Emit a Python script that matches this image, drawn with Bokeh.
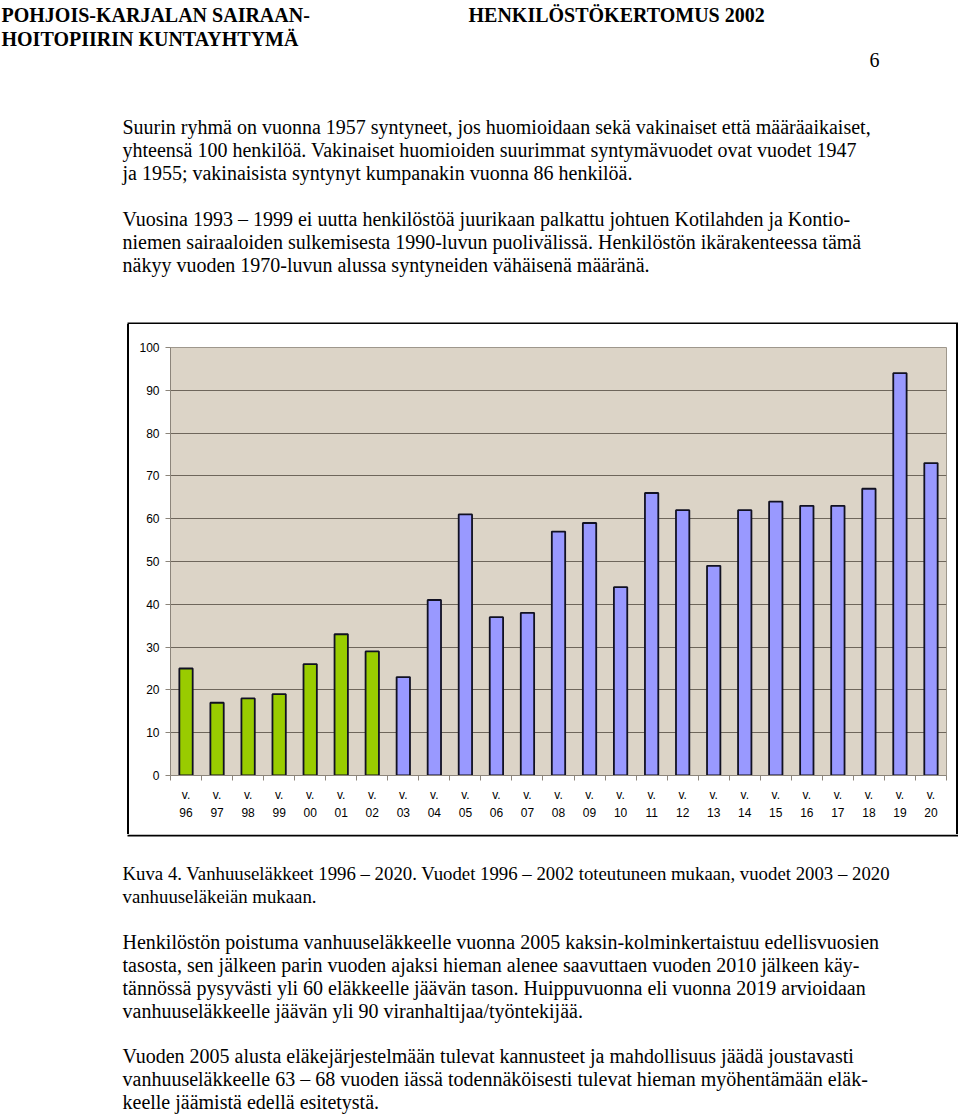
from bokeh.plotting import figure
from bokeh.models import FixedTicker, Range1d, Spacer
from bokeh.layouts import column, row
from bokeh.core.properties import value
from bokeh.embed import file_html
from bokeh.resources import INLINE

# ---- data ----
years = ["96", "97", "98", "99", "00", "01", "02", "03", "04", "05", "06", "07", "08",
         "09", "10", "11", "12", "13", "14", "15", "16", "17", "18", "19", "20"]
retirements = [25, 17, 18, 19, 26, 33, 29, 23, 41, 61, 37, 38, 57,
               59, 44, 66, 62, 49, 62, 64, 63, 63, 67, 94, 73]
realized_count = 7  # 1996-2002 realized, 2003-2020 estimated
y_ticks = [0, 10, 20, 30, 40, 50, 60, 70, 80, 90, 100]

header_left = ["POHJOIS-KARJALAN SAIRAAN-", "HOITOPIIRIN KUNTAYHTYMÄ"]
header_right = ["HENKILÖSTÖKERTOMUS 2002"]
page_no = ["6"]
para1 = ["Suurin ryhmä on vuonna 1957 syntyneet, jos huomioidaan sekä vakinaiset että määräaikaiset,",
         "yhteensä 100 henkilöä.  Vakinaiset huomioiden suurimmat syntymävuodet ovat vuodet 1947",
         "ja 1955; vakinaisista syntynyt kumpanakin vuonna 86 henkilöä."]
para2 = ["Vuosina 1993 – 1999 ei uutta henkilöstöä juurikaan palkattu johtuen Kotilahden ja Kontio-",
         "niemen sairaaloiden sulkemisesta 1990-luvun puolivälissä.  Henkilöstön ikärakenteessa tämä",
         "näkyy vuoden 1970-luvun alussa syntyneiden vähäisenä määränä."]
caption = ["Kuva 4.  Vanhuuseläkkeet 1996 – 2020.  Vuodet 1996 – 2002 toteutuneen mukaan, vuodet 2003 – 2020",
           "vanhuuseläkeiän mukaan."]
para3 = ["Henkilöstön poistuma vanhuuseläkkeelle vuonna 2005 kaksin-kolminkertaistuu edellisvuosien",
         "tasosta, sen jälkeen parin vuoden ajaksi hieman alenee saavuttaen vuoden 2010 jälkeen käy-",
         "tännössä pysyvästi yli 60 eläkkeelle jäävän tason.  Huippuvuonna eli vuonna 2019 arvioidaan",
         "vanhuuseläkkeelle jäävän yli 90 viranhaltijaa/työntekijää."]
para4 = ["Vuoden 2005 alusta eläkejärjestelmään tulevat kannusteet ja mahdollisuus jäädä joustavasti",
         "vanhuuseläkkeelle 63 – 68 vuoden iässä todennäköisesti tulevat hieman myöhentämään eläk-",
         "keelle jäämistä edellä esitetystä."]

W = 958
BOX_T, BOX_B = 324, 834          # page y of the chart box edges
BOX_L, BOX_R = 127, 958          # page x of the chart box edges
BOT_END = 1115
LINE = 2                          # box line width

SERIF = value("Liberation Serif")


def text_figure(x0, x1, y0, y1):
    """A figure whose frame is the whole canvas, in page-pixel coordinates (y downward)."""
    f = figure(width=x1 - x0, height=y1 - y0, output_backend="svg", toolbar_location=None,
               x_range=Range1d(x0, x1), y_range=Range1d(y1, y0),
               x_axis_type=None, y_axis_type=None,
               min_border_left=0, min_border_right=0, min_border_top=0, min_border_bottom=0)
    f.outline_line_color = None
    f.grid.grid_line_color = None
    f.background_fill_color = "white"
    f.border_fill_color = "white"
    return f


def add_lines(f, lines, x, y0, step, size="20px", style="normal"):
    f.text(x=[x] * len(lines), y=[y0 + step * i for i in range(len(lines))], text=lines,
           text_font=SERIF, text_font_size=size, text_font_style=style,
           text_baseline="middle", text_align="left", text_color="black")


# ---------- top text block ----------
top = text_figure(0, W, 0, BOX_T)
add_lines(top, header_left, 1, 14, 24, size="20px", style="bold")
add_lines(top, header_right, 468, 14, 24, size="20px", style="bold")
add_lines(top, page_no, 869, 59, 23)
add_lines(top, para1, 122, 126, 23)
add_lines(top, para2, 122, 218, 23)
top.quad(left=[BOX_L], right=[BOX_R], top=[BOX_T - LINE], bottom=[BOX_T],
         fill_color="black", line_color=None)

# ---------- vertical edges of the chart box ----------
gap = Spacer(width=BOX_L, height=BOX_B - BOX_T)
left_edge = Spacer(width=LINE, height=BOX_B - BOX_T, styles={"background-color": "black"})
right_edge = Spacer(width=LINE, height=BOX_B - BOX_T, styles={"background-color": "black"})

# ---------- chart ----------
n = len(years)
xs = list(range(n))
colors = ["#99CC00" if i < realized_count else "#9999FF" for i in range(n)]

chart_x0, chart_x1 = BOX_L + LINE, BOX_R - LINE
p = figure(width=chart_x1 - chart_x0, height=BOX_B - BOX_T, output_backend="svg",
           toolbar_location=None,
           x_range=Range1d(-0.5, n - 0.5), y_range=Range1d(0, 100),
           min_border_left=170 - chart_x0, min_border_right=chart_x1 - 946,
           min_border_top=347 - BOX_T, min_border_bottom=BOX_B - 775)
p.background_fill_color = "#DCD4C7"
p.border_fill_color = "white"
p.outline_line_color = "#9E978C"
p.outline_line_width = 1

p.vbar(x=xs, top=retirements, width=0.43, fill_color=colors,
       line_color="#111122", line_width=1.8)

p.yaxis.ticker = FixedTicker(ticks=y_ticks)
p.yaxis.major_label_text_font = "Liberation Sans"
p.yaxis.major_label_text_font_size = "12px"
p.yaxis.major_label_text_color = "black"
p.yaxis.axis_line_color = "#8C857B"
p.yaxis.major_tick_line_color = "#8C857B"
p.yaxis.major_tick_out = 5
p.yaxis.major_tick_in = 0
p.yaxis.minor_tick_line_color = None
p.yaxis.major_label_standoff = 6

p.xaxis.ticker = FixedTicker(ticks=xs, minor_ticks=[i - 0.5 for i in range(n + 1)])
p.xaxis.major_label_overrides = {i: "v.\n" + y for i, y in enumerate(years)}
p.xaxis.major_label_text_font = "Liberation Sans"
p.xaxis.major_label_text_font_size = "12px"
p.xaxis.major_label_text_color = "black"
p.xaxis.major_label_text_line_height = 1.3
p.xaxis.axis_line_color = "#8C857B"
p.xaxis.major_tick_line_color = None
p.xaxis.major_tick_out = 0
p.xaxis.major_tick_in = 0
p.xaxis.minor_tick_line_color = "#8C857B"
p.xaxis.minor_tick_out = 5
p.xaxis.minor_tick_in = 0
p.xaxis.major_label_standoff = 7

p.xgrid.grid_line_color = None
p.ygrid.grid_line_color = "#6E665B"
p.ygrid.grid_line_width = 1

# ---------- bottom text block ----------
bot = text_figure(0, W, BOX_B, BOT_END)
bot.quad(left=[BOX_L], right=[BOX_R], top=[BOX_B], bottom=[BOX_B + LINE],
         fill_color="black", line_color=None)
add_lines(bot, caption, 122, 873, 23, size="18.8px")
add_lines(bot, para3, 122, 941, 23)
add_lines(bot, para4, 122, 1055, 23)

layout = column(top, row(gap, left_edge, p, right_edge), bot)
open("out.html", "w").write(file_html(layout, INLINE))
